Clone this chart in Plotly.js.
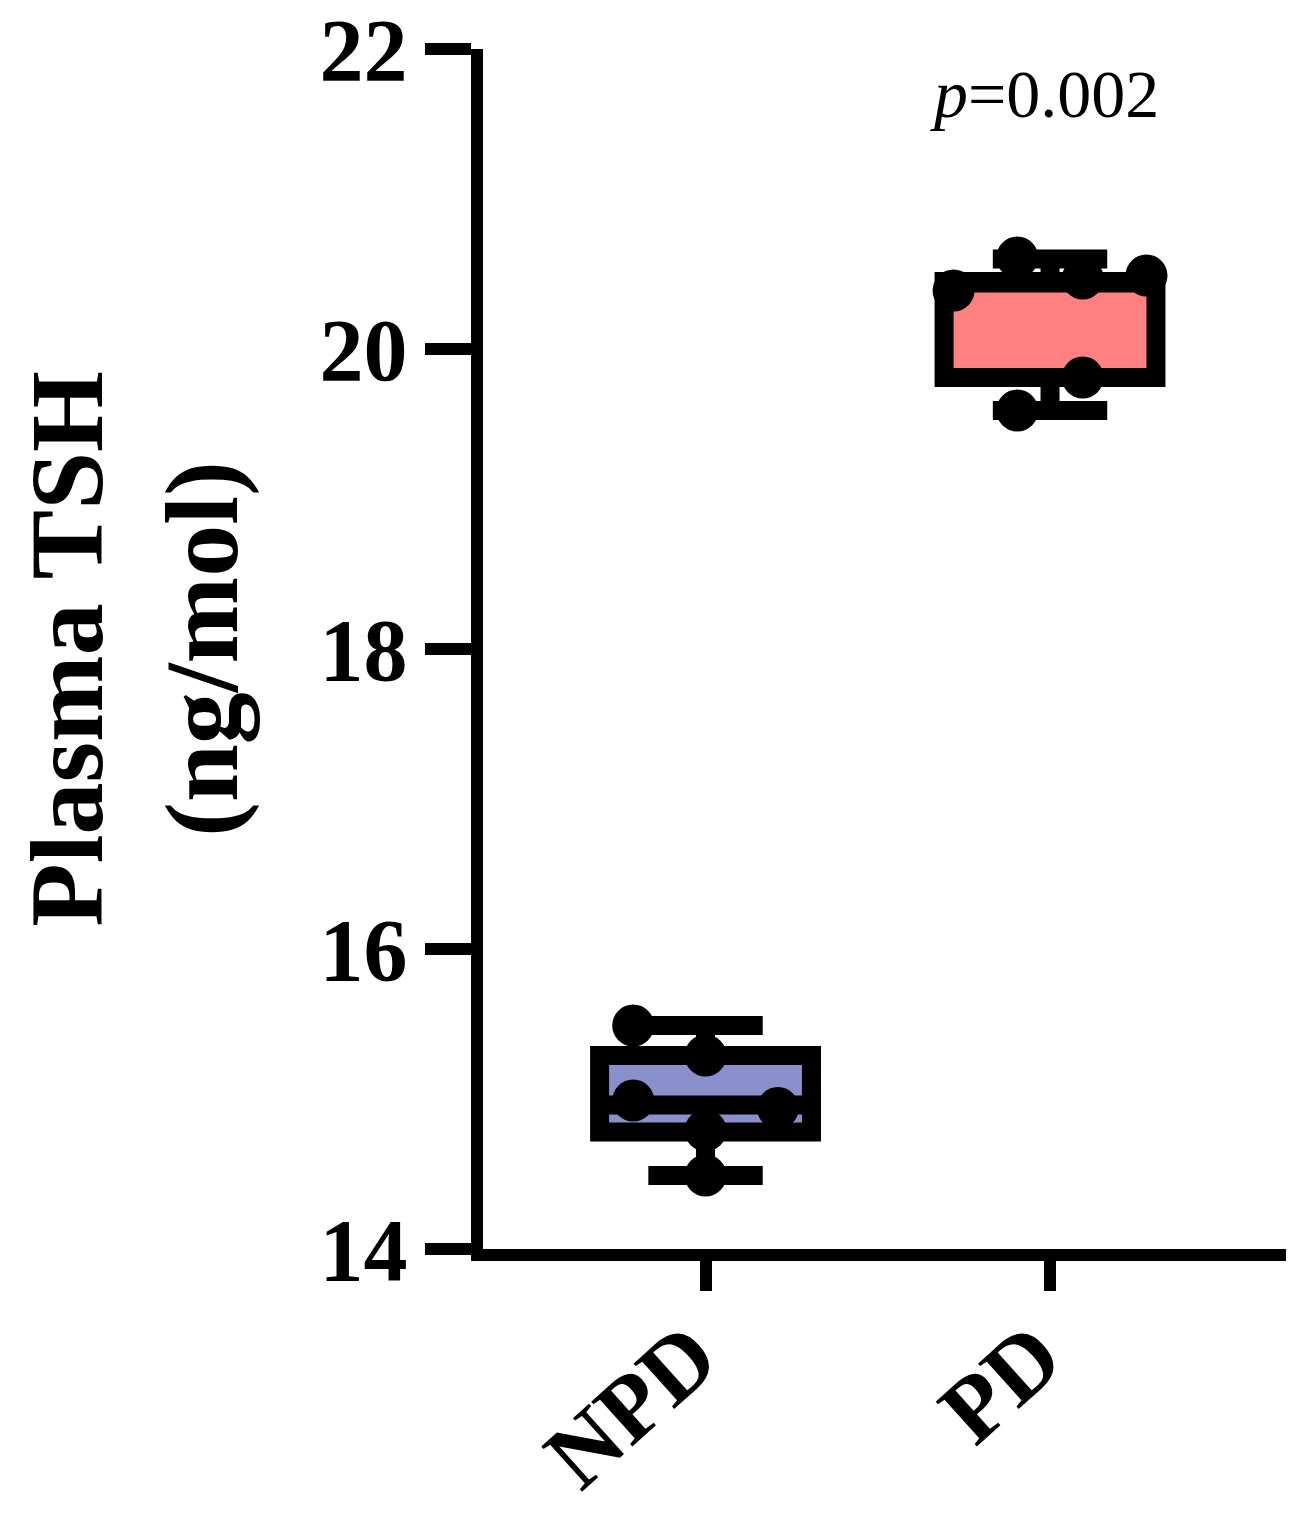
<!DOCTYPE html>
<html>
<head>
<meta charset="utf-8">
<script src="https://cdn.plot.ly/plotly-3.0.1.min.js"></script>
<style>html,body{margin:0;padding:0;background:#fff;}#chart{width:1312px;height:1520px;}</style>
</head>
<body>
<div id="chart"></div>
<script>
// ---- data ----
const categories = ['NPD', 'PD'];
const categoryPos = [0, 1];

// individual points (Plasma TSH, ng/mol)
const npdValues = [15.49, 15.29, 14.99, 14.94, 14.79, 14.49];
const npdOffsets = [-0.21, 0.0, -0.21, 0.21, 0.0, 0.0];
const pdValues = [20.61, 20.39, 20.49, 20.47, 19.81, 19.59];
const pdOffsets = [-0.095, -0.28, 0.28, 0.095, 0.095, -0.095];

// box summaries (min, q1, median, q3, max)
const boxLower = [14.49, 19.59];
const boxQ1 = [14.78, 19.81];
const boxMedian = [14.96, 20.44];
const boxQ3 = [15.29, 20.45];
const boxUpper = [15.49, 20.60];
const boxColors = ['#8A90CC', '#FF8080'];

const pText = '<i>p</i>=0.002';

// ---- traces ----
const traces = [];
for (let i = 0; i < categories.length; i++) {
  traces.push({
    type: 'box',
    x: [categoryPos[i]],
    q1: [boxQ1[i]], median: [boxMedian[i]], q3: [boxQ3[i]],
    lowerfence: [boxLower[i]], upperfence: [boxUpper[i]],
    width: 0.615,
    whiskerwidth: 0.54,
    fillcolor: boxColors[i],
    line: {color: '#000', width: 19},
    boxpoints: false,
    hoverinfo: 'skip',
    showlegend: false
  });
}
const groups = [[npdValues, npdOffsets], [pdValues, pdOffsets]];
groups.forEach(function (g, i) {
  traces.push({
    type: 'scatter', mode: 'markers',
    x: g[1].map(function (o) { return categoryPos[i] + o; }),
    y: g[0],
    marker: {color: '#000', size: 42, line: {width: 0}},
    cliponaxis: false,
    showlegend: false,
    hoverinfo: 'skip'
  });
});

const serif = 'Liberation Serif, Times New Roman, serif';
const layout = {
  width: 1312, height: 1520,
  margin: {l: 483, r: 26, t: 49, b: 271},
  paper_bgcolor: '#fff', plot_bgcolor: '#fff',
  showlegend: false,
  xaxis: {
    range: [-0.646, 1.685],
    tickvals: categoryPos, ticktext: categories.map(function (c) { return c + '\u2009'; }),
    tickangle: -42,
    showgrid: false, zeroline: false,
    showline: true, linecolor: '#000', linewidth: 12,
    ticks: 'outside', ticklen: 30, tickwidth: 12, tickcolor: '#000',
    ticklabelstandoff: -38,
    tickfont: {family: serif, size: 93, color: '#000', weight: 'bold'}
  },
  yaxis: {
    range: [14, 22],
    tickvals: [14, 16, 18, 20, 22],
    showgrid: false, zeroline: false,
    showline: true, linecolor: '#000', linewidth: 12,
    ticks: 'outside', ticklen: 46, tickwidth: 12, tickcolor: '#000',
    tickfont: {family: serif, size: 88, color: '#000', weight: 'bold'},
    title: {text: 'Plasma TSH<br>(ng/mol)', font: {family: serif, size: 104, color: '#000', weight: 'bold'}, standoff: 52}
  },
  annotations: [{
    x: 1, y: 21.7, xref: 'x', yref: 'y', xshift: -6,
    text: pText, showarrow: false,
    xanchor: 'center', yanchor: 'middle',
    font: {family: serif, size: 68, color: '#000'}
  }]
};

Plotly.newPlot('chart', traces, layout, {displayModeBar: false, staticPlot: true});
</script>
</body>
</html>
